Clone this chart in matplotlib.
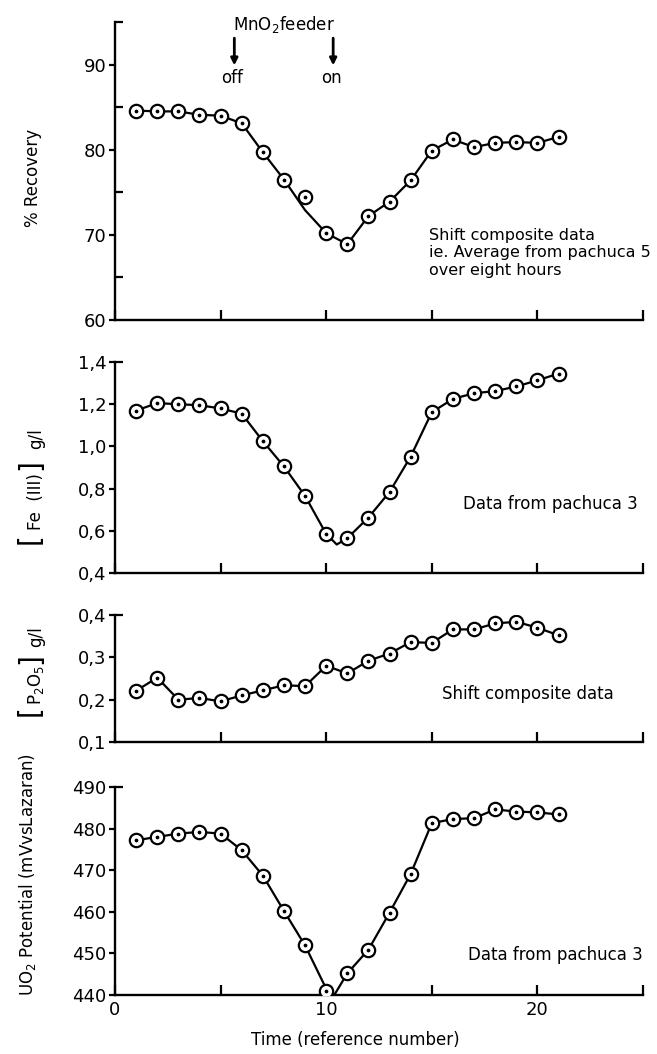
import numpy as np
import matplotlib
matplotlib.use("Agg")
import matplotlib.pyplot as plt
from matplotlib.ticker import FixedLocator, FixedFormatter

plt.rcParams['font.family'] = ['DejaVu Sans']
plt.rcParams['mathtext.fontset'] = 'dejavusans'

# time (reference number) of each sample
ref_no = list(range(1, 22))

# % recovery (shift composite, pachuca 5)
recovery = [84.6, 84.5, 84.5, 84.1, 84.0, 83.1, 79.7, 76.5, 74.4, 70.2, 68.9,
            72.2, 73.9, 76.4, 79.9, 81.2, 80.3, 80.8, 80.9, 80.8, 81.5]
recovery_curve_x = list(range(1, 22))
recovery_curve = [84.6, 84.5, 84.5, 84.1, 84.0, 83.1, 79.7, 76.5, 72.9, 70.2, 68.9,
                  72.2, 73.9, 76.4, 79.9, 81.2, 80.3, 80.8, 80.9, 80.8, 81.5]

# [Fe(III)] g/l, pachuca 3
fe3 = [1.17, 1.205, 1.20, 1.195, 1.18, 1.155, 1.025, 0.905, 0.765, 0.585, 0.565,
       0.663, 0.784, 0.952, 1.162, 1.225, 1.252, 1.262, 1.284, 1.313, 1.345]
fe3_curve_x = [1, 2, 3, 4, 5, 6, 7, 8, 9, 10, 10.5, 11, 12, 13, 14, 15, 16, 17, 18, 19, 20, 21]
fe3_curve = [1.17, 1.205, 1.20, 1.195, 1.18, 1.155, 1.025, 0.905, 0.765, 0.585, 0.535, 0.565,
             0.663, 0.784, 0.952, 1.162, 1.225, 1.252, 1.262, 1.284, 1.313, 1.345]

# [P2O5] g/l, shift composite
p2o5 = [0.221, 0.252, 0.200, 0.204, 0.196, 0.210, 0.222, 0.234, 0.232, 0.280, 0.262,
        0.292, 0.309, 0.336, 0.334, 0.366, 0.366, 0.380, 0.384, 0.370, 0.352]

# UO2 potential mV vs Lazaran, pachuca 3
uo2 = [477.2, 478.0, 478.8, 479.2, 478.8, 474.8, 468.7, 460.2, 451.9, 441.0, 445.2,
       450.9, 459.8, 469.1, 481.3, 482.3, 482.5, 484.6, 484.1, 483.9, 483.4]
uo2_curve_x = [1, 2, 3, 4, 5, 6, 7, 8, 9, 10, 10.3, 11, 12, 13, 14, 15, 16, 17, 18, 19, 20, 21]
uo2_curve = [477.2, 478.0, 478.8, 479.2, 478.8, 474.8, 468.7, 460.2, 451.9, 441.5, 439.3, 445.2,
             450.9, 459.8, 469.1, 481.3, 482.3, 482.5, 484.6, 484.1, 483.9, 483.4]

# axis limits / ticks
ylims = [(60, 95), (0.4, 1.4), (0.1, 0.4), (440, 490)]
yticks = [[60, 70, 80, 90], [0.4, 0.6, 0.8, 1.0, 1.2, 1.4], [0.1, 0.2, 0.3, 0.4],
          [440, 450, 460, 470, 480, 490]]
yticklabels = [['60', '70', '80', '90'], ['0,4', '0,6', '0,8', '1,0', '1,2', '1,4'],
               ['0,1', '0,2', '0,3', '0,4'], ['440', '450', '460', '470', '480', '490']]
yminor = [[65, 75, 85, 95], [1.4], [0.4], [490]]
xticks = [0, 10, 20]
xticklabels = ['0', '10', '20']
xminor = [5, 15, 25]

feeder_off = 5.65
feeder_on = 10.33

W, H = 657, 1054
fig = plt.figure(figsize=(W / 100, H / 100), dpi=100)

left = 115 / W
width = 528 / W
rects = [(22, 320), (362, 573), (615, 742), (787, 995)]
axes = []
for top, bot in rects:
    axes.append(fig.add_axes([left, 1 - bot / H, width, (bot - top) / H]))

fs = 13      # tick labels
fa = 12      # annotations
mk = dict(marker='o', markersize=9.6, markerfacecolor='white', markeredgecolor='black',
          markeredgewidth=1.6, linestyle='none', zorder=3)
dot = dict(marker='o', markersize=1.7, color='black', linestyle='none', zorder=4)
line = dict(color='black', linewidth=1.6, zorder=2)

axes[0].plot(recovery_curve_x, recovery_curve, **line)
axes[0].plot(ref_no, recovery, **mk)
axes[0].plot(ref_no, recovery, **dot)

axes[1].plot(fe3_curve_x, fe3_curve, **line)
axes[1].plot(ref_no, fe3, **mk)
axes[1].plot(ref_no, fe3, **dot)

axes[2].plot(ref_no, p2o5, **line)
axes[2].plot(ref_no, p2o5, **mk)
axes[2].plot(ref_no, p2o5, **dot)

axes[3].plot(uo2_curve_x, uo2_curve, **line)
axes[3].plot(ref_no, uo2, **mk)
axes[3].plot(ref_no, uo2, **dot)

for i, ax in enumerate(axes):
    ax.set_xlim(0, 25)
    ax.set_ylim(*ylims[i])
    ax.spines['top'].set_visible(False)
    ax.spines['right'].set_visible(False)
    ax.spines['left'].set_linewidth(1.7)
    ax.spines['bottom'].set_linewidth(1.7)
    ax.yaxis.set_major_locator(FixedLocator(yticks[i]))
    ax.yaxis.set_major_formatter(FixedFormatter(yticklabels[i]))
    ax.yaxis.set_minor_locator(FixedLocator(yminor[i]))
    ax.yaxis.remove_overlapping_locs = False
    ax.tick_params(axis='y', which='major', direction='out', length=4, width=1.6,
                   labelsize=fs, pad=2)
    ax.tick_params(axis='y', which='minor', direction='in', length=6, width=1.6)
    ax.xaxis.set_major_locator(FixedLocator(xticks))
    ax.xaxis.set_minor_locator(FixedLocator(xminor))
    ax.tick_params(axis='x', which='both', direction='in', length=7, width=1.6,
                   labelsize=fs, pad=4)
    if i < 3:
        ax.tick_params(axis='x', labelbottom=False)
    else:
        ax.set_xticklabels(xticklabels)

# annotations inside the panels
axes[0].text(14.85, 70.8, "Shift composite data\nie. Average from pachuca 5\nover eight hours",
             fontsize=11.5, ha='left', va='top', linespacing=1.2)
axes[1].text(16.5, 0.729, "Data from pachuca 3", fontsize=fa, ha='left', va='center')
axes[2].text(15.5, 0.213, "Shift composite data", fontsize=fa, ha='left', va='center')
axes[3].text(16.7, 449.5, "Data from pachuca 3", fontsize=fa, ha='left', va='center')

# MnO2 feeder off / on markers
axes[0].text(5.6, 94.7, r"MnO$_2$feeder", fontsize=fa, ha='left', va='center', clip_on=False)
for xpos, lab in [(feeder_off, 'off'), (feeder_on, 'on')]:
    axes[0].annotate('', xy=(xpos, 89.9), xytext=(xpos, 93.1),
                     arrowprops=dict(arrowstyle='-|>', color='black', lw=2,
                                     mutation_scale=10, shrinkA=0, shrinkB=0))
    axes[0].text(xpos - 0.1, 88.4, lab, fontsize=fa, ha='center', va='center')


def vtext(s, xc, yc, size):
    fig.text(xc / W, 1 - yc / H, s, rotation=90, ha='center', va='center', fontsize=size)


# y labels (brackets drawn larger, as in the original)
vtext("% Recovery", 33, 178, fa)

vtext("[", 30, 539, 20)
vtext("Fe  (III)", 36, 502, fa)
vtext("]", 30, 465, 20)
vtext("g/l", 36, 439, fa)

vtext("[", 30, 711, 20)
vtext(r"P$_2$O$_5$", 36, 685, 12)
vtext("]", 30, 659, 20)
vtext("g/l", 36, 637, fa)

vtext(r"UO$_2$ Potential (mVvsLazaran)", 28, 875, 12)

fig.text(355 / W, 1 - 1040 / H, "Time (reference number)", ha='center', va='center', fontsize=fa)

fig.savefig("out.png", dpi=100)
